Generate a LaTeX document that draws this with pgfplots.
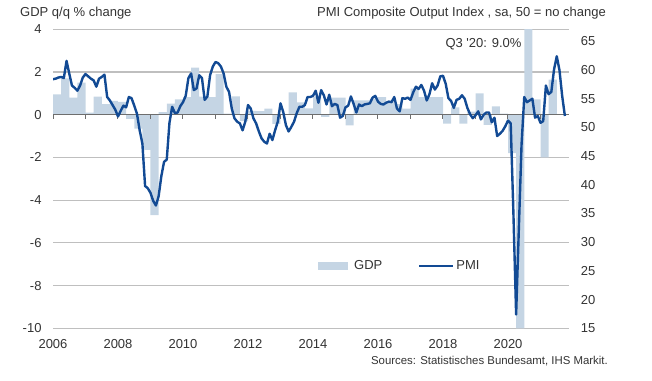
\documentclass[border=0pt]{standalone}
\usepackage{pgfplots}
\pgfplotsset{compat=1.18}
\usepackage{pgfplotstable}
\usepackage{fontspec}
\setmainfont{Liberation Sans}
\definecolor{gdpcol}{RGB}{197,213,228}
\definecolor{pmicol}{RGB}{18,74,148}
\definecolor{gridcol}{RGB}{191,191,191}
\definecolor{txtcol}{RGB}{51,51,51}
\definecolor{zerocol}{RGB}{110,110,110}

\pgfplotstableread{
q gdp
0 0.95
1 1.70
2 0.80
3 1.50
4 0.10
5 0.85
6 0.50
7 0.65
8 0.60
9 -0.20
10 -0.65
11 -1.65
12 -4.70
13 0.12
14 0.52
15 0.72
16 0.82
17 2.20
18 0.85
19 0.83
20 1.90
21 0.05
22 0.86
23 -0.30
24 0.18
25 0.17
26 0.28
27 -0.43
28 0.00
29 1.05
30 0.58
31 0.30
32 0.85
33 -0.10
34 0.80
35 0.80
36 -0.50
37 0.67
38 0.67
39 0.75
40 0.83
41 0.60
42 0.50
43 0.28
44 1.22
45 0.83
46 0.83
47 0.83
48 -0.42
49 0.35
50 -0.42
51 0.15
52 1.00
53 -0.47
54 0.39
55 0.05
56 -1.80
57 -10.00
58 9.00
59 0.72
60 -2.00
61 1.64
}\gdptab

\pgfplotstableread{
m pmi
0 58.4
1 58.5
2 58.7
3 58.8
4 58.6
5 61.6
6 59.4
7 57.3
8 56.9
9 56.4
10 57.3
11 58.7
12 59.3
13 58.9
14 58.5
15 58.2
16 57.1
17 58.5
18 58.8
19 59.2
20 55.3
21 54.7
22 53.9
23 53.1
24 51.9
25 52.9
26 53.8
27 53.5
28 55.3
29 55.1
30 53.8
31 52.4
32 49.5
33 47.2
34 39.8
35 39.4
36 38.6
37 37.2
38 36.4
39 38.0
40 41.5
41 44.0
42 44.4
43 50.8
44 53.6
45 52.5
46 52.6
47 53.7
48 54.4
49 55.5
50 58.6
51 59.4
52 56.5
53 56.8
54 59.1
55 58.6
56 54.8
57 55.4
58 59.1
59 60.6
60 61.4
61 61.2
62 60.6
63 59.4
64 57.1
65 56.2
66 53.3
67 51.6
68 51.0
69 50.7
70 49.5
71 51.0
72 53.9
73 53.3
74 51.6
75 50.7
76 49.3
77 48.1
78 47.5
79 47.2
80 48.9
81 47.8
82 49.5
83 51.0
84 54.2
85 52.7
86 50.4
87 49.3
88 50.1
89 51.0
90 52.5
91 53.6
92 53.6
93 53.9
94 55.3
95 55.3
96 55.5
97 56.4
98 54.3
99 56.5
100 55.6
101 54.0
102 55.7
103 53.7
104 54.1
105 53.9
106 51.7
107 52.0
108 53.5
109 53.8
110 55.4
111 54.1
112 52.6
113 54.0
114 53.7
115 54.0
116 54.1
117 54.2
118 55.2
119 55.5
120 54.5
121 54.1
122 54.0
123 54.3
124 54.5
125 54.4
126 55.3
127 53.3
128 52.8
129 55.1
130 55.0
131 55.2
132 54.8
133 56.1
134 57.1
135 56.7
136 57.4
137 56.4
138 54.7
139 55.8
140 57.7
141 56.6
142 57.3
143 58.9
144 59.0
145 57.6
146 55.1
147 54.6
148 53.4
149 54.8
150 55.0
151 55.6
152 55.0
153 53.4
154 52.3
155 51.6
156 52.1
157 52.8
158 51.4
159 52.2
160 52.6
161 52.6
162 50.9
163 51.7
164 48.5
165 48.9
166 49.4
167 50.2
168 51.2
169 50.7
170 35.0
171 17.4
172 32.3
173 47.0
174 55.3
175 54.4
176 54.7
177 55.0
178 51.7
179 52.0
180 50.8
181 51.1
182 57.3
183 55.8
184 56.2
185 60.1
186 62.4
187 60.0
188 55.5
189 52.0
}\pmitab

\begin{document}
\begin{tikzpicture}[font=\fontsize{13}{15}\selectfont]
\path[use as bounding box] (-53pt,-51.7pt) rectangle (599pt,328.3pt);
\pgfplotsset{base/.style={scale only axis, width=516pt, height=299pt,
  xmin=2006, xmax=2021.877,
  tick label style={font=\fontsize{13}{15}\selectfont, text=txtcol},
  /pgf/number format/assume math mode=true,
  /pgf/number format/1000 sep={},
  axis line style={draw=none}}}
% GDP axis
\begin{axis}[base, ymin=-10, ymax=4, ytick={-10,-8,...,4},
  ymajorgrids, grid style={gridcol, line width=1.2pt},
  xtick={2006,2008,...,2020},
  major tick style={draw=none},
  xticklabel style={anchor=north, inner sep=0pt, yshift=-10.7pt},
  yticklabel style={anchor=east, inner sep=0pt, xshift=-11.3pt}]
\addplot[ybar, bar width=0.25, bar shift=0pt, fill=gdpcol, draw=none]
  table[x expr=2006.125+0.25*\thisrow{q}, y=gdp]{\gdptab};
\end{axis}
% zero line with year ticks
\begin{axis}[base, ymin=-10, ymax=4, axis x line=middle, axis y line=none,
  ytick=\empty, xtick={2006,2007,...,2021}, xticklabels={},
  tick align=outside, major tick length=4pt,
  x axis line style={-, draw=zerocol, line width=1pt},
  every inner x axis line/.append style={-},
  xtick style={draw=zerocol, line width=1pt}]
\addplot[draw=none] coordinates {(2006,0)};
\end{axis}
% PMI axis
\begin{axis}[base, ymin=15, ymax=67.1, ytick={15,20,...,65},
  xtick=\empty, ytick pos=right, yticklabel pos=right,
  major tick style={draw=none},
  yticklabel style={anchor=west, inner sep=0pt, xshift=11.6pt},
  legend style={draw=none, fill=none, at={(0.5058,0.2084)}, anchor=west,
    inner sep=0pt, font=\fontsize{13}{15}\selectfont, text=txtcol,
    /tikz/every even column/.append style={column sep=34pt}},
  legend columns=2]
\addlegendimage{legend image code/.code={\draw[line width=8pt, gdpcol] (0pt,0pt) -- (30pt,0pt);}}
\addlegendentry{GDP}
\addplot[pmicol, line width=2.4pt, line join=round,
  legend image code/.code={\draw[line width=2pt, pmicol] (0pt,0pt) -- (34pt,0pt);}]
  table[x expr=2006+\thisrow{m}/12, y=pmi]{\pmitab};
\addlegendentry{PMI}
\end{axis}
\node[anchor=base west, text=txtcol, inner sep=0pt] at (-33pt,311.6pt) {GDP q/q \% change};
\node[anchor=base east, text=txtcol, inner sep=0pt] at (553pt,311.6pt) {PMI Composite Output Index , sa, 50 = no change};
\node[anchor=base east, text=txtcol, inner sep=0pt] at (468.7pt,281pt) {Q3 \textquotesingle 20: 9.0\%};
\node[anchor=base east, text=txtcol, inner sep=0pt, font=\fontsize{11.4}{13}\selectfont] at (555pt,-35.7pt) {Sources: Statistisches Bundesamt, IHS Markit.};
\end{tikzpicture}
\end{document}
